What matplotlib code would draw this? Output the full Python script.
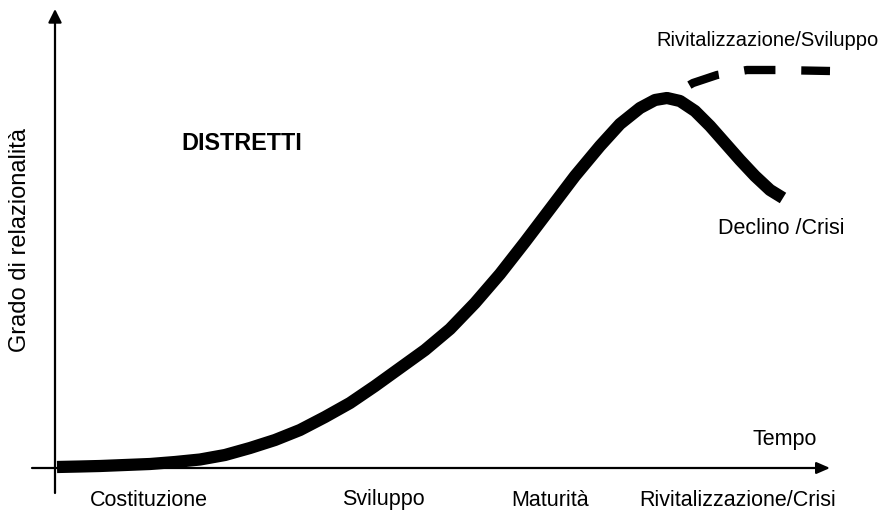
import matplotlib
matplotlib.use("Agg")
import matplotlib.pyplot as plt

plt.rcParams["font.family"] = ["Liberation Sans", "DejaVu Sans"]

# life cycle curve (time, degree of relationality)
curve_t = [0, 23, 43, 68, 93, 118, 143, 168, 193, 218, 243, 268, 293, 318, 343,
           368, 393, 418, 443, 468, 493, 518, 543, 563, 583, 598, 610, 623, 638,
           653, 668, 683, 698, 713, 726]
curve_y = [0, 0.5, 1, 2, 3, 5, 7.5, 12, 19, 27, 37, 50, 64, 81, 99,
           117, 138, 164, 193, 225, 258, 291, 321, 343, 359, 367, 369, 366, 356,
           341, 324, 307, 291, 277, 269]

# dashed revitalisation branch
revit_t = [610, 636, 660, 690, 720, 773]
revit_y = [369, 384, 392, 397, 397, 396]

phase_labels = ["Costituzione", "Sviluppo", "Maturità", "Rivitalizzazione/Crisi"]
phase_pos = [92, 326, 493, 681]

fig = plt.figure(figsize=(8.83, 5.15), dpi=100)
ax = fig.add_axes([0, 0, 1, 1])
ax.set_xlim(-57, 826)
ax.set_ylim(-48, 467)
ax.axis("off")

# axes with arrow heads
ax.annotate("", xy=(773, -1), xytext=(-25, -1),
            arrowprops=dict(arrowstyle="-|>,head_length=0.8,head_width=0.35",
                            color="black", lw=1.6, shrinkA=0, shrinkB=0))
ax.annotate("", xy=(-2, 458), xytext=(-2, -26),
            arrowprops=dict(arrowstyle="-|>,head_length=0.8,head_width=0.4",
                            color="black", lw=1.6, shrinkA=0, shrinkB=0))

ax.plot(curve_t, curve_y, color="black", lw=8.8, solid_capstyle="butt",
        solid_joinstyle="round")
ax.plot(revit_t, revit_y, color="black", lw=6, dash_capstyle="butt",
        linestyle=(3.75, (3.75, 3.1)))

fs = 15.5
ax.text(185, 323, "DISTRETTI", fontsize=16.8, fontweight="bold",
        ha="center", va="center")
ax.text(-37, 227, "Grado di relazionalità", fontsize=17, rotation=90,
        ha="center", va="center")
ax.text(728, 27, "Tempo", fontsize=fs, ha="center", va="center")
ax.text(822, 427, "Rivitalizzazione/Sviluppo", fontsize=14.5,
        ha="right", va="center")
ax.text(724, 239, "Declino /Crisi", fontsize=fs, ha="center", va="center")
for lab, p in zip(phase_labels, phase_pos):
    ax.text(p, -33, lab, fontsize=fs, ha="center", va="center")

fig.savefig("out.png", dpi=100)
